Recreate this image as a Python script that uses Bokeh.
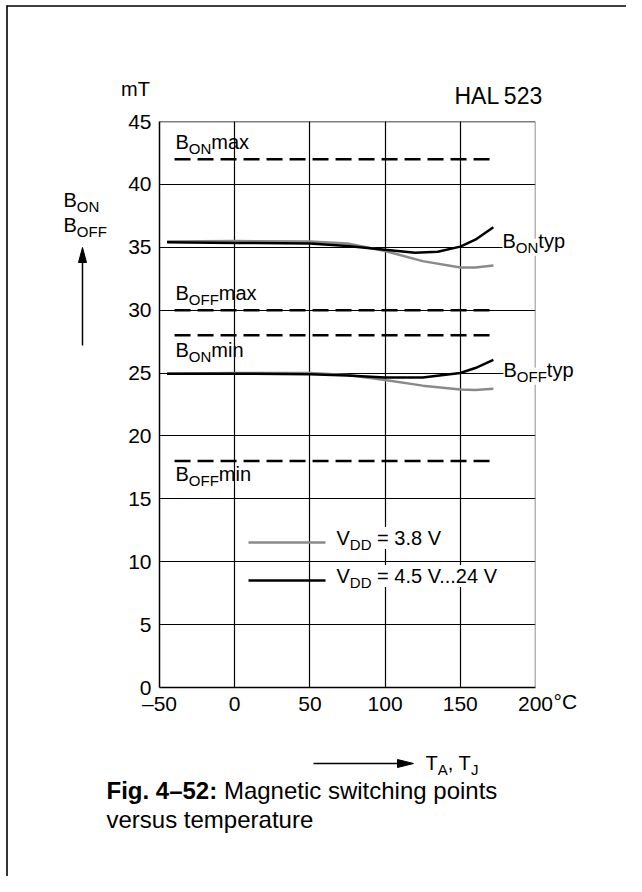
from bokeh.plotting import figure
from bokeh.models import FixedTicker, Span, Range1d
from bokeh.core.properties import value
from bokeh.embed import file_html
from bokeh.resources import INLINE

# ---------------- data ----------------
x_ticks = [-50, 0, 50, 100, 150, 200]
y_ticks = [0, 5, 10, 15, 20, 25, 30, 35, 40, 45]

# B_ON typ
bon_T_hv = [-45, 0, 50, 75, 100, 120, 135, 150, 160, 172]
bon_B_hv = [35.4, 35.35, 35.3, 35.1, 34.8, 34.57, 34.65, 35.05, 35.6, 36.6]   # VDD 4.5..24 V
bon_T_lv = [-45, 0, 50, 75, 100, 125, 150, 160, 172]
bon_B_lv = [35.45, 35.5, 35.45, 35.3, 34.7, 33.9, 33.4, 33.4, 33.55]          # VDD 3.8 V

# B_OFF typ
boff_T_hv = [-45, 0, 50, 75, 100, 125, 150, 160, 172]
boff_B_hv = [24.95, 24.95, 24.9, 24.8, 24.65, 24.65, 25.0, 25.4, 26.05]
boff_T_lv = [-45, 0, 50, 75, 100, 125, 150, 160, 172]
boff_B_lv = [24.95, 25.0, 25.0, 24.85, 24.45, 24.0, 23.7, 23.65, 23.75]

# limits (dashed)
limit_T = [-40, 171]
limit_names = ["BONmax", "BOFFmax", "BONmin", "BOFFmin"]
limit_vals = [42, 30, 28, 18]

# ---------------- layout ----------------
W, H = 626, 876
BL, BR, BT, BB = 159, 91, 121, 189
XMIN, XMAX, YMIN, YMAX = -50, 200, 0, 45
FW = W - BL - BR
FH = H - BT - BB


def X(px):
    return XMIN + (px - BL) * (XMAX - XMIN) / FW


def Y(py):
    return YMIN + (H - BB - py) * (YMAX - YMIN) / FH


FONT = "Liberation Sans"
MAIN = 20
SUB = 15

W_TAB = {'B': 667, 'O': 778, 'N': 722, 'F': 611, 'D': 722, 'V': 667, 'm': 833, 'a': 556,
         'x': 500, 'i': 222, 'n': 556, 't': 278, 'y': 500, 'p': 556, ' ': 278, '=': 584,
         '.': 278, '3': 556, '8': 556, '4': 556, '5': 556, '2': 556, 'A': 667, 'J': 500,
         ',': 278, 'T': 611}


def tw(s, size):
    return sum(W_TAB.get(c, 556) for c in s) * size / 1000.0


p = figure(width=W, height=H, x_range=Range1d(XMIN, XMAX), y_range=Range1d(YMIN, YMAX),
           output_backend="svg", toolbar_location=None,
           min_border_left=BL, min_border_right=BR, min_border_top=BT, min_border_bottom=BB)
p.outline_line_color = None
p.background_fill_color = "white"
p.border_fill_color = "white"

p.xaxis.ticker = FixedTicker(ticks=x_ticks)
p.yaxis.ticker = FixedTicker(ticks=y_ticks)
p.xaxis.major_label_overrides = {-50: "\u201350"}
for ax in (p.xaxis, p.yaxis):
    ax.major_tick_in = 0
    ax.major_tick_out = 0
    ax.minor_tick_in = 0
    ax.minor_tick_out = 0
    ax.axis_line_color = "black"
    ax.axis_line_width = 1.5
    ax.major_label_text_font = FONT
    ax.major_label_text_font_size = "21px"
    ax.major_label_text_color = "black"
p.xaxis.major_label_standoff = 4
p.yaxis.major_label_standoff = 8

p.xgrid.ticker = FixedTicker(ticks=[0, 50, 100, 150])
p.ygrid.ticker = FixedTicker(ticks=[5, 10, 15, 20, 25, 30, 35, 40])
for g in (p.xgrid, p.ygrid):
    g.grid_line_color = "black"
    g.grid_line_width = 1.2
    g.grid_line_alpha = 1.0

p.add_layout(Span(location=45, dimension="width", line_color="black", line_width=1.5))
p.add_layout(Span(location=200, dimension="height", line_color="#6a6a6a", line_width=1.5))

# dashed limits
for v in limit_vals:
    p.line(limit_T, [v, v], line_color="black", line_width=2.5, line_dash="16 7")

# typical curves
GRAY = "#8a8a8a"
p.line(bon_T_lv, bon_B_lv, line_color=GRAY, line_width=2.5)
p.line(boff_T_lv, boff_B_lv, line_color=GRAY, line_width=2.5)
p.line(bon_T_hv, bon_B_hv, line_color="black", line_width=2.5)
p.line(boff_T_hv, boff_B_hv, line_color="black", line_width=2.5)

# legend samples
p.line([X(248), X(325)], [Y(542), Y(542)], line_color=GRAY, line_width=2.5)
p.line([X(248), X(325)], [Y(580), Y(580)], line_color="black", line_width=2.5)


def put_text(px, py, text, size, bg=None, style="normal", align="left"):
    kw = {}
    if bg is not None:
        kw["background_fill_color"] = bg
    py = py - 0.42 * size   # compensate renderer baseline placement
    p.text(x=[X(px)], y=[Y(py)], text=[text], text_font=value(FONT),
           text_font_size=value(f"{size}px"), text_color="black",
           text_baseline="alphabetic", text_align=align,
           text_font_style=style, level="overlay", **kw)


def composite(px, py, parts, main=MAIN, sub=SUB, bg="white"):
    """parts: list of (text, kind) where kind in 'n','s'; px/py = left baseline position"""
    cx = px
    for text, kind in parts:
        size = main if kind == "n" else sub
        dy = 0 if kind == "n" else 4
        lead = len(text) - len(text.lstrip(" "))
        cx += tw(" " * lead, size)
        t = text.lstrip(" ")
        put_text(cx, py + dy, t, size, bg=bg)
        cx += tw(t, size)


# limit labels
composite(175, 150, [("B", "n"), ("ON", "s"), ("max", "n")], bg=None)
composite(175, 301, [("B", "n"), ("OFF", "s"), ("max", "n")], bg=None)
composite(175, 358, [("B", "n"), ("ON", "s"), ("min", "n")], bg=None)
composite(175, 482, [("B", "n"), ("OFF", "s"), ("min", "n")], bg=None)
# typ labels
composite(502, 249, [("B", "n"), ("ON", "s"), ("typ", "n")])
composite(503, 378, [("B", "n"), ("OFF", "s"), ("typ", "n")])
# legend texts
composite(336, 546, [("V", "n"), ("DD", "s"), (" = 3.8 V", "n")])
composite(336, 584, [("V", "n"), ("DD", "s"), (" = 4.5 V...24 V", "n")])

# y-axis name and arrow
composite(63, 208, [("B", "n"), ("ON", "s")], bg=None)
composite(63, 233, [("B", "n"), ("OFF", "s")], bg=None)
p.line([X(82), X(82)], [Y(345), Y(258)], line_color="black", line_width=1.5, level="overlay")
p.patch([X(78), X(82), X(86)], [Y(262), Y(247), Y(262)], fill_color="black",
        line_color="black", line_width=1, level="overlay")

# unit labels
put_text(135, 97, "mT", 20, align="center")
put_text(553, 710, "\u00b0C", 21)
put_text(454, 105, "HAL\u2009523", 23)

# x-axis arrow and name
p.line([X(313), X(400)], [Y(763), Y(763)], line_color="black", line_width=1.5, level="overlay")
p.patch([X(397), X(413), X(397)], [Y(759), Y(763), Y(767)], fill_color="black",
        line_color="black", line_width=1, level="overlay")
composite(425, 771, [("T", "n"), ("A", "s"), (", T", "n"), ("J", "s")], bg=None)

# caption
cap_x = 106
CAP = 24
put_text(cap_x, 800, "Fig. 4\u201352:", CAP, style="bold")
put_text(cap_x + 4.613 * CAP + 0.278 * CAP, 800, "Magnetic switching points", CAP)
put_text(cap_x, 829, "versus temperature", CAP)

# outer frame (page border lines)
p.line([X(6), X(640)], [Y(5.5), Y(5.5)], line_color="black", line_width=1.6, level="overlay")
p.line([X(6.5), X(6.5)], [Y(5), Y(892)], line_color="black", line_width=1.6, level="overlay")

open("out.html", "w").write(file_html(p, INLINE))
